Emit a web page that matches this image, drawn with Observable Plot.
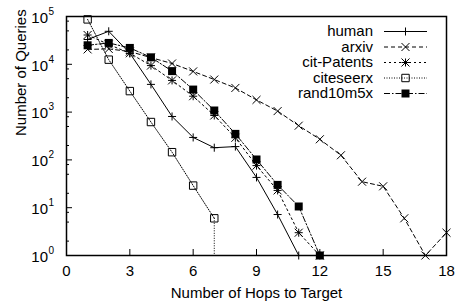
<!DOCTYPE html>
<html><head><meta charset="utf-8">
<script src="https://cdn.jsdelivr.net/npm/d3@7"></script>
<script src="https://cdn.jsdelivr.net/npm/@observablehq/plot@0.6"></script>
<style>
html,body{margin:0;padding:0;background:#fff;}
#chart svg{display:block;}
</style></head><body><div id="chart"></div>
<script>
// ---- data ----
const seriesNames = ["human", "arxiv", "cit-Patents", "citeseerx", "rand10m5x"];
const human      = [33000, 49000, 17000, 3800, 810, 295, 180, 190, 43, 7.2, 1];
const arxiv      = [20500, 21000, 18500, 13800, 10400, 7100, 4800, 3200, 1800, 1050, 520, 270, 125, 35, 28, 6, 1, 3];
const citPatents = [41000, 26000, 17000, 9400, 4600, 2150, 850, 290, 76, 23, 3, 1];
const citeseerx  = [87000, 12500, 2750, 620, 145, 29, 6];
const rand10m5x  = [25000, 28000, 22000, 14000, 7200, 2960, 1080, 350, 102, 30, 10.6, 1];
const xTicks = [0, 3, 6, 9, 12, 15, 18];
const yTicks = [1, 10, 100, 1000, 10000, 100000];
const xLabel = "Number of Hops to Target";
const yLabel = "Number of Queries";

const seriesValues = [human, arxiv, citPatents, citeseerx, rand10m5x];
const rows = seriesValues.map((vals, s) => vals.map((v, i) => ({series: seriesNames[s], hop: i + 1, value: v})));

// ---- styles ----
const FONT = "'Liberation Sans', Arial, Helvetica, sans-serif";
const symSize = {plus: 23, times: 43.5, square2: 70, square: 64};
const styles = [
  {dash: null,        symbols: ["plus"]},
  {dash: "4,3",       symbols: ["times"]},
  {dash: "2,3",       symbols: ["plus", "times"]},
  {dash: "1,1.5",     symbols: ["square2"]},
  {dash: "6,2,1.5,2", symbols: ["square"]}
];
const d3Sym = {plus: d3.symbolPlus, times: d3.symbolTimes, square2: d3.symbolSquare2, square: d3.symbolSquare};
const rOf = name => Math.sqrt(symSize[name] / Math.PI);

const minorTicks = [];
for (let k = 0; k < 5; k++) for (const m of [2, 5, 8]) minorTicks.push(m * 10 ** k);

const marks = [];
rows.forEach((r, s) => {
  const st = styles[s];
  marks.push(Plot.line(r, {x: "hop", y: "value", stroke: "black", strokeWidth: 1, strokeDasharray: st.dash}));
  for (const sym of st.symbols) {
    const filled = sym === "square";
    marks.push(Plot.dot(r, {x: "hop", y: "value", symbol: () => sym, r: rOf(sym),
      fill: filled ? "black" : "none", stroke: filled ? "none" : "black", strokeWidth: 1}));
  }
});
// citeseerx drops to zero after its last point: dotted drop to the bottom of the axis
marks.push(Plot.ruleX([rows[3][rows[3].length - 1]], {x: "hop", y1: "value", y2: () => yTicks[0],
  stroke: "black", strokeWidth: 1, strokeDasharray: styles[3].dash}));

// legend drawn as a render-function mark
function legend(index, scales, values, dim) {
  const g = d3.create("svg:g").attr("font-family", FONT).attr("font-size", 15);
  const right = dim.width - dim.marginRight;
  seriesNames.forEach((name, i) => {
    const y = dim.marginTop + 15.5 + 15.5 * i;
    g.append("text").attr("x", right - 73).attr("y", y).attr("dy", "0.32em")
      .attr("text-anchor", "end").attr("fill", "black").text(name);
    g.append("line").attr("x1", right - 62).attr("x2", right - 19).attr("y1", y).attr("y2", y)
      .attr("stroke", "black").attr("stroke-width", 1).attr("stroke-dasharray", styles[i].dash);
    for (const sym of styles[i].symbols) {
      const filled = sym === "square";
      g.append("path").attr("transform", `translate(${right - 40.5},${y})`)
        .attr("d", d3.symbol(d3Sym[sym], symSize[sym])())
        .attr("fill", filled ? "black" : "none").attr("stroke", filled ? "none" : "black").attr("stroke-width", 1);
    }
  });
  return g.node();
}

const chart = Plot.plot({
  width: 458, height: 302,
  marginLeft: 66, marginRight: 12, marginTop: 16, marginBottom: 47,
  style: {fontFamily: FONT, fontSize: "15px", color: "black", background: "white"},
  x: {domain: [0, 18]},
  y: {type: "log", domain: [1, 1e5]},
  marks: [
    ...marks,
    Plot.axisX(xTicks, {tickSize: -6, tickFormat: () => "", label: null, stroke: "black"}),
    Plot.axisX(xTicks, {tickSize: 0, tickPadding: 10, label: null, fill: "black"}),
    Plot.axisY(yTicks, {tickSize: -6, tickFormat: () => "", label: null, stroke: "black"}),
    Plot.axisY(minorTicks, {tickSize: -3, tickFormat: () => "", label: null, stroke: "black"}),
    Plot.text(yTicks, {frameAnchor: "left", y: d => d, text: () => "10", textAnchor: "end",
      dx: -18.5, dy: 1.5, fontSize: 15, fill: "black"}),
    Plot.text(yTicks, {frameAnchor: "left", y: d => d, text: d => String(Math.round(Math.log10(d))),
      textAnchor: "start", dx: -18, dy: -5, fontSize: 10, fill: "black"}),
    Plot.text([xLabel], {frameAnchor: "bottom", text: d => d, dy: 42, fontSize: 15, fill: "black"}),
    Plot.text([yLabel], {frameAnchor: "left", text: d => d, rotate: -90, dx: -45, fontSize: 15, fill: "black"}),
    Plot.frame({stroke: "black", strokeWidth: 1.5}),
    legend
  ]
});
document.getElementById("chart").appendChild(chart);
</script>
</body></html>
